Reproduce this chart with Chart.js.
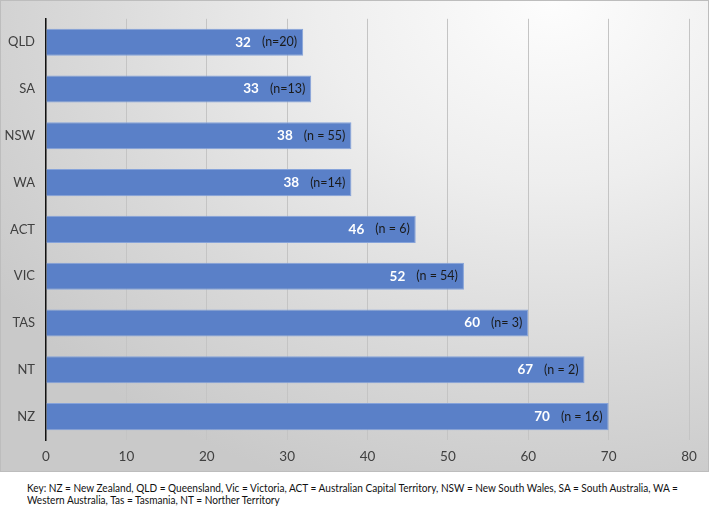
<!DOCTYPE html>
<html>
<head>
<meta charset="utf-8">
<script src="https://cdn.jsdelivr.net/npm/chart.js@4/dist/chart.umd.min.js"></script>
<style>
  html, body { margin: 0; padding: 0; background: #ffffff; }
  #wrap { position: relative; width: 709px; height: 506px; overflow: hidden; }
  #box { position: absolute; left: 0; top: 0; width: 707px; height: 470px;
         border: 1px solid #bdbdbd;
         background: radial-gradient(ellipse 95% 110% at 78% 0%, #fdfdfd 0%, #eeeeee 35%, #d9d9d9 70%, #c9c9c9 100%); }
  #chartHolder { position: absolute; left: 0; top: 0; width: 709px; height: 472px; }
  #key { position: absolute; left: 27px; top: 482px; width: 720px; white-space: nowrap;
         transform: scaleX(0.915); transform-origin: 0 0;
         font-family: Lato, "Open Sans", sans-serif; font-size: 11px; line-height: 12px; color: #111; }
</style>
</head>
<body>
<div id="wrap">
  <div id="box"></div>
  <div id="chartHolder"><canvas id="c" width="709" height="472"></canvas></div>
  <div id="key">Key: NZ = New Zealand, QLD = Queensland, Vic = Victoria, ACT = Australian Capital Territory, NSW = New South Wales, SA = South Australia, WA =<br>Western Australia, Tas = Tasmania, NT = Norther Territory</div>
</div>
<script>
const categories = ["QLD", "SA", "NSW", "WA", "ACT", "VIC", "TAS", "NT", "NZ"];
const values = [32, 33, 38, 38, 46, 52, 60, 67, 70];
const nLabels = ["(n=20)", "(n=13)", "(n = 55)", "(n=14)", "(n = 6)", "(n = 54)", "(n= 3)", "(n = 2)", "(n = 16)"];
const xTicks = [0, 10, 20, 30, 40, 50, 60, 70, 80];

const FONT = 'Lato, "Open Sans", sans-serif';

const labelPlugin = {
  id: 'barLabels',
  afterDatasetsDraw(chart) {
    const ctx = chart.ctx;
    const meta = chart.getDatasetMeta(0);
    ctx.save();
    ctx.textBaseline = 'middle';
    meta.data.forEach((bar, i) => {
      const xEnd = bar.x;
      const y = bar.y;
      ctx.font = '12.5px ' + FONT;
      ctx.fillStyle = '#1a1a1a';
      ctx.textAlign = 'right';
      const nText = nLabels[i];
      ctx.fillText(nText, xEnd - 6, y);
      const w = ctx.measureText(nText).width;
      ctx.font = 'bold 13.5px ' + FONT;
      ctx.fillStyle = '#ffffff';
      ctx.fillText(String(values[i]), xEnd - 6 - w - 11, y);
    });
    ctx.restore();
  }
};

new Chart(document.getElementById('c'), {
  type: 'bar',
  data: {
    labels: categories,
    datasets: [{
      data: values,
      backgroundColor: '#5a80c8',
      borderColor: '#86a3da',
      borderWidth: 1,
      borderSkipped: 'start',
      barPercentage: 0.58,
      categoryPercentage: 1.0
    }]
  },
  options: {
    indexAxis: 'y',
    responsive: false,
    animation: false,
    layout: { padding: { top: 13, right: 20, left: 0, bottom: 0 } },
    plugins: { legend: { display: false }, tooltip: { enabled: false } },
    scales: {
      x: {
        min: 0, max: 80,
        afterFit(scale) { scale.height = 32; },
        afterBuildTicks(scale) { scale.ticks = xTicks.map(v => ({ value: v })); },
        grid: { color: '#c4c4c4', lineWidth: 1, drawTicks: false },
        border: { display: false },
        ticks: { color: '#404040', font: { family: FONT, size: 13.5 }, padding: 9 }
      },
      y: {
        afterFit(scale) { scale.width = 46; },
        grid: { display: false, drawTicks: false },
        border: { display: true, color: '#111111', width: 1.5 },
        ticks: { color: '#404040', font: { family: FONT, size: 13 }, padding: 11 }
      }
    }
  },
  plugins: [labelPlugin]
});
</script>
</body>
</html>
